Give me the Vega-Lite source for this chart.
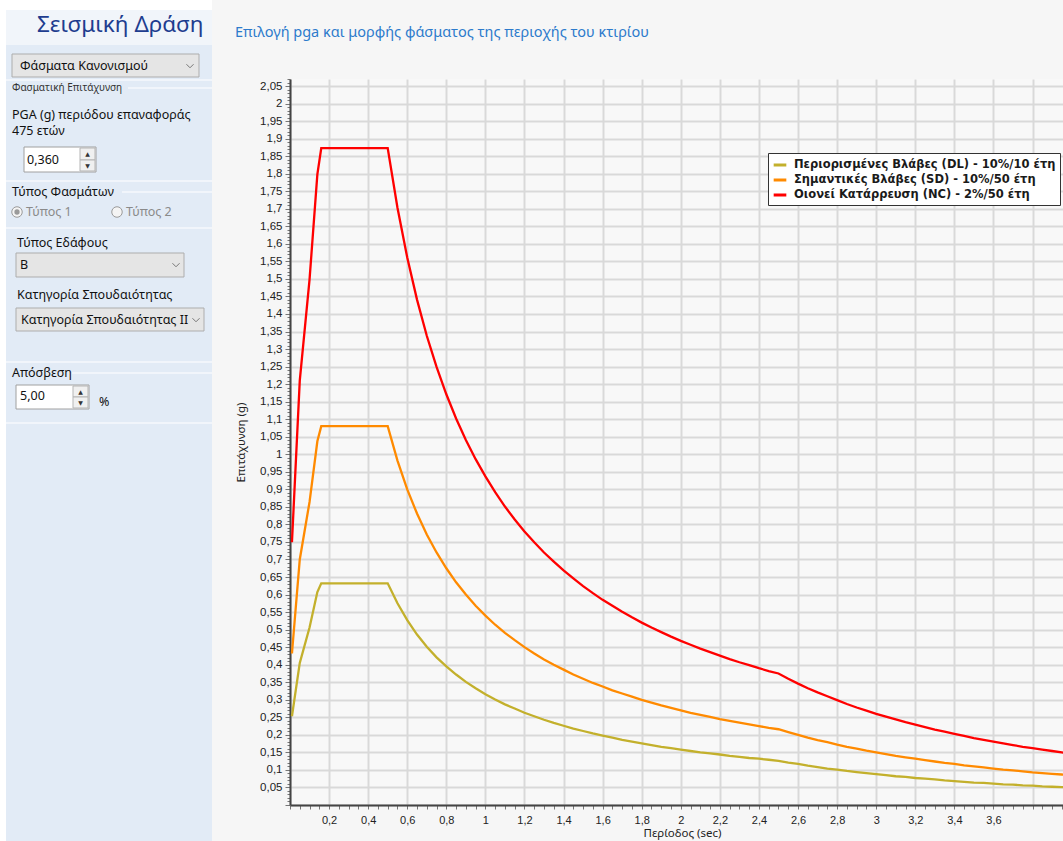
{
  "$schema": "https://vega.github.io/schema/vega-lite/v6.json",
  "background": "#f6f6f6",
  "padding": 0,
  "spacing": 22,
  "config": {"view": {"stroke": null}},
  "hconcat": [
    {
      "width": 212,
      "height": 762,
      "encoding": {
        "x": {"field": "x", "type": "quantitative", "scale": {"domain": [0, 212], "nice": false, "zero": false}, "axis": null},
        "y": {"field": "y", "type": "quantitative", "scale": {"domain": [79, 841], "reverse": true, "nice": false, "zero": false}, "axis": null}
      },
      "layer": [
        {
          "data": {"values": [{"x": 6, "x2": 212, "y": 10, "y2": 45}]},
          "mark": {"type": "rect", "fill": "#f1f5fa"},
          "encoding": {"x2": {"field": "x2"}, "y2": {"field": "y2"}}
        },
        {
          "data": {"values": [{"x": 0, "x2": 6, "y": 0, "y2": 841}, {"x": 0, "x2": 212, "y": 0, "y2": 10}]},
          "mark": {"type": "rect", "fill": "#ffffff"},
          "encoding": {"x2": {"field": "x2"}, "y2": {"field": "y2"}}
        },
        {
          "data": {"values": [{"x": 6, "x2": 212, "y": 45, "y2": 841}]},
          "mark": {"type": "rect", "fill": "#e2ebf6"},
          "encoding": {"x2": {"field": "x2"}, "y2": {"field": "y2"}}
        },
        {
          "data": {"values": [
            {"x": 6, "x2": 212, "y": 80}, {"x": 6, "x2": 212, "y": 181}, {"x": 6, "x2": 212, "y": 228},
            {"x": 6, "x2": 212, "y": 362}, {"x": 6, "x2": 212, "y": 423},
            {"x": 128, "x2": 212, "y": 88}, {"x": 122, "x2": 212, "y": 192}, {"x": 72, "x2": 212, "y": 373}
          ]},
          "mark": {"type": "rule", "stroke": "#f6f8fc", "strokeWidth": 1.5},
          "encoding": {"x2": {"field": "x2"}}
        },
        {
          "data": {"values": [
            {"x": 12, "x2": 199, "y": 54, "y2": 77},
            {"x": 16, "x2": 184, "y": 253, "y2": 277},
            {"x": 16, "x2": 204, "y": 308, "y2": 331}
          ]},
          "mark": {"type": "rect", "fill": "#e5e5e5", "stroke": "#adadad", "strokeWidth": 1},
          "encoding": {"x2": {"field": "x2"}, "y2": {"field": "y2"}}
        },
        {
          "data": {"values": [
            {"x": 24, "x2": 96, "y": 147, "y2": 172},
            {"x": 16, "x2": 89, "y": 385, "y2": 409}
          ]},
          "mark": {"type": "rect", "fill": "#ffffff", "stroke": "#a0a0a0", "strokeWidth": 1},
          "encoding": {"x2": {"field": "x2"}, "y2": {"field": "y2"}}
        },
        {
          "data": {"values": [
            {"x": 80, "x2": 95, "y": 148, "y2": 160}, {"x": 80, "x2": 95, "y": 160, "y2": 171},
            {"x": 73, "x2": 88, "y": 386, "y2": 397}, {"x": 73, "x2": 88, "y": 397, "y2": 408}
          ]},
          "mark": {"type": "rect", "fill": "#f0f0f0", "stroke": "#b5b5b5", "strokeWidth": 1},
          "encoding": {"x2": {"field": "x2"}, "y2": {"field": "y2"}}
        },
        {
          "data": {"values": [
            {"x": 87.5, "y": 154, "t": "▲"}, {"x": 87.5, "y": 166, "t": "▼"},
            {"x": 80.5, "y": 391.5, "t": "▲"}, {"x": 80.5, "y": 403, "t": "▼"}
          ]},
          "mark": {"type": "text", "font": "DejaVu Sans", "fontSize": 6, "color": "#333333", "align": "center", "baseline": "middle"},
          "encoding": {"text": {"field": "t"}}
        },
        {
          "data": {"values": [{"x": 190, "y": 66}, {"x": 176, "y": 265}, {"x": 196, "y": 320}]},
          "mark": {"type": "point", "shape": "M-1,-0.5L0,0.5L1,-0.5", "filled": false, "stroke": "#777777", "strokeWidth": 1, "size": 50, "opacity": 1}
        },
        {
          "data": {"values": [{"x": 17, "y": 212, "k": "on"}, {"x": 117, "y": 212, "k": "off"}]},
          "mark": {"type": "point", "shape": "circle", "filled": true, "fill": "#f4f4f4", "stroke": "#9a9a9a", "strokeWidth": 1, "size": 110, "opacity": 1}
        },
        {
          "data": {"values": [{"x": 17, "y": 212}]},
          "mark": {"type": "point", "shape": "circle", "filled": true, "color": "#9a9a9a", "size": 28, "opacity": 1}
        },
        {
          "data": {"values": [{"x": 37, "y": 25, "t": "Σεισμική Δράση"}]},
          "mark": {"type": "text", "font": "Noto Sans", "fontSize": 22.5, "color": "#1e3d8f", "align": "left", "baseline": "middle"},
          "encoding": {"text": {"field": "t"}}
        },
        {
          "data": {"values": [
            {"x": 20, "y": 66, "t": "Φάσματα Κανονισμού"},
            {"x": 12, "y": 115, "t": "PGA (g) περιόδου επαναφοράς"},
            {"x": 12, "y": 131, "t": "475 ετών"},
            {"x": 27, "y": 160, "t": "0,360"},
            {"x": 12, "y": 192, "t": "Τύπος Φασμάτων"},
            {"x": 17, "y": 243, "t": "Τύπος Εδάφους"},
            {"x": 20, "y": 265, "t": "B"},
            {"x": 17, "y": 295, "t": "Κατηγορία Σπουδαιότητας"},
            {"x": 21, "y": 320, "t": "Κατηγορία Σπουδαιότητας II"},
            {"x": 12, "y": 373, "t": "Απόσβεση"},
            {"x": 20, "y": 396, "t": "5,00"},
            {"x": 99, "y": 402, "t": "%"}
          ]},
          "mark": {"type": "text", "font": "Noto Sans", "fontSize": 12.5, "color": "#111111", "align": "left", "baseline": "middle"},
          "encoding": {"text": {"field": "t"}}
        },
        {
          "data": {"values": [{"x": 12, "y": 88, "t": "Φασματική Επιτάχυνση"}]},
          "mark": {"type": "text", "font": "Noto Sans", "fontSize": 10, "color": "#333333", "align": "left", "baseline": "middle"},
          "encoding": {"text": {"field": "t"}}
        },
        {
          "data": {"values": [{"x": 26, "y": 212, "t": "Τύπος 1"}, {"x": 126, "y": 212, "t": "Τύπος 2"}]},
          "mark": {"type": "text", "font": "Noto Sans", "fontSize": 12.5, "color": "#8a8a8a", "align": "left", "baseline": "middle"},
          "encoding": {"text": {"field": "t"}}
        }
      ]
    },
    {
      "width": 773,
      "height": 726,
      "view": {"fill": "#f8f8f8"},
      "title": {
        "text": "Επιλογή pga και μορφής φάσματος της περιοχής του κτιρίου",
        "anchor": "start",
        "frame": "bounds",
        "offset": 33,
        "font": "Noto Sans",
        "fontSize": 14.5,
        "fontWeight": "normal",
        "color": "#2d7bcc"
      },
      "data": {"values": [
        {"T": 0.01, "DL": 0.253, "SD": 0.432, "NC": 0.749},
        {"T": 0.05, "DL": 0.405, "SD": 0.7, "NC": 1.21},
        {"T": 0.1, "DL": 0.506, "SD": 0.864, "NC": 1.498},
        {"T": 0.14, "DL": 0.607, "SD": 1.037, "NC": 1.798},
        {"T": 0.16, "DL": 0.632, "SD": 1.08, "NC": 1.873},
        {"T": 0.2, "DL": 0.632, "SD": 1.08, "NC": 1.873},
        {"T": 0.25, "DL": 0.632, "SD": 1.08, "NC": 1.873},
        {"T": 0.3, "DL": 0.632, "SD": 1.08, "NC": 1.873},
        {"T": 0.35, "DL": 0.632, "SD": 1.08, "NC": 1.873},
        {"T": 0.4, "DL": 0.632, "SD": 1.08, "NC": 1.873},
        {"T": 0.45, "DL": 0.632, "SD": 1.08, "NC": 1.873},
        {"T": 0.5, "DL": 0.632, "SD": 1.08, "NC": 1.873},
        {"T": 0.55, "DL": 0.575, "SD": 0.982, "NC": 1.703},
        {"T": 0.6, "DL": 0.527, "SD": 0.9, "NC": 1.561},
        {"T": 0.65, "DL": 0.486, "SD": 0.831, "NC": 1.441},
        {"T": 0.7, "DL": 0.451, "SD": 0.771, "NC": 1.338},
        {"T": 0.75, "DL": 0.421, "SD": 0.72, "NC": 1.249},
        {"T": 0.8, "DL": 0.395, "SD": 0.675, "NC": 1.171},
        {"T": 0.85, "DL": 0.372, "SD": 0.635, "NC": 1.102},
        {"T": 0.9, "DL": 0.351, "SD": 0.6, "NC": 1.041},
        {"T": 0.95, "DL": 0.333, "SD": 0.568, "NC": 0.986},
        {"T": 1, "DL": 0.316, "SD": 0.54, "NC": 0.937},
        {"T": 1.05, "DL": 0.301, "SD": 0.514, "NC": 0.892},
        {"T": 1.1, "DL": 0.287, "SD": 0.491, "NC": 0.851},
        {"T": 1.15, "DL": 0.275, "SD": 0.47, "NC": 0.814},
        {"T": 1.2, "DL": 0.263, "SD": 0.45, "NC": 0.78},
        {"T": 1.25, "DL": 0.253, "SD": 0.432, "NC": 0.749},
        {"T": 1.3, "DL": 0.243, "SD": 0.415, "NC": 0.72},
        {"T": 1.35, "DL": 0.234, "SD": 0.4, "NC": 0.694},
        {"T": 1.4, "DL": 0.226, "SD": 0.386, "NC": 0.669},
        {"T": 1.45, "DL": 0.218, "SD": 0.372, "NC": 0.646},
        {"T": 1.5, "DL": 0.211, "SD": 0.36, "NC": 0.624},
        {"T": 1.55, "DL": 0.204, "SD": 0.348, "NC": 0.604},
        {"T": 1.6, "DL": 0.198, "SD": 0.338, "NC": 0.585},
        {"T": 1.65, "DL": 0.192, "SD": 0.327, "NC": 0.568},
        {"T": 1.7, "DL": 0.186, "SD": 0.318, "NC": 0.551},
        {"T": 1.75, "DL": 0.181, "SD": 0.309, "NC": 0.535},
        {"T": 1.8, "DL": 0.176, "SD": 0.3, "NC": 0.52},
        {"T": 1.85, "DL": 0.171, "SD": 0.292, "NC": 0.506},
        {"T": 1.9, "DL": 0.166, "SD": 0.284, "NC": 0.493},
        {"T": 1.95, "DL": 0.162, "SD": 0.277, "NC": 0.48},
        {"T": 2, "DL": 0.158, "SD": 0.27, "NC": 0.468},
        {"T": 2.05, "DL": 0.154, "SD": 0.263, "NC": 0.457},
        {"T": 2.1, "DL": 0.15, "SD": 0.257, "NC": 0.446},
        {"T": 2.15, "DL": 0.147, "SD": 0.251, "NC": 0.436},
        {"T": 2.2, "DL": 0.144, "SD": 0.245, "NC": 0.426},
        {"T": 2.25, "DL": 0.14, "SD": 0.24, "NC": 0.416},
        {"T": 2.3, "DL": 0.137, "SD": 0.235, "NC": 0.407},
        {"T": 2.35, "DL": 0.134, "SD": 0.23, "NC": 0.399},
        {"T": 2.4, "DL": 0.132, "SD": 0.225, "NC": 0.39},
        {"T": 2.45, "DL": 0.129, "SD": 0.22, "NC": 0.382},
        {"T": 2.5, "DL": 0.126, "SD": 0.216, "NC": 0.375},
        {"T": 2.55, "DL": 0.121, "SD": 0.208, "NC": 0.36},
        {"T": 2.6, "DL": 0.117, "SD": 0.2, "NC": 0.346},
        {"T": 2.65, "DL": 0.112, "SD": 0.192, "NC": 0.333},
        {"T": 2.7, "DL": 0.108, "SD": 0.185, "NC": 0.321},
        {"T": 2.75, "DL": 0.104, "SD": 0.179, "NC": 0.31},
        {"T": 2.8, "DL": 0.101, "SD": 0.172, "NC": 0.299},
        {"T": 2.85, "DL": 0.097, "SD": 0.166, "NC": 0.288},
        {"T": 2.9, "DL": 0.094, "SD": 0.161, "NC": 0.278},
        {"T": 2.95, "DL": 0.091, "SD": 0.155, "NC": 0.269},
        {"T": 3, "DL": 0.088, "SD": 0.15, "NC": 0.26},
        {"T": 3.05, "DL": 0.085, "SD": 0.145, "NC": 0.252},
        {"T": 3.1, "DL": 0.082, "SD": 0.14, "NC": 0.244},
        {"T": 3.15, "DL": 0.08, "SD": 0.136, "NC": 0.236},
        {"T": 3.2, "DL": 0.077, "SD": 0.132, "NC": 0.229},
        {"T": 3.25, "DL": 0.075, "SD": 0.128, "NC": 0.222},
        {"T": 3.3, "DL": 0.073, "SD": 0.124, "NC": 0.215},
        {"T": 3.35, "DL": 0.07, "SD": 0.12, "NC": 0.209},
        {"T": 3.4, "DL": 0.068, "SD": 0.117, "NC": 0.203},
        {"T": 3.45, "DL": 0.066, "SD": 0.113, "NC": 0.197},
        {"T": 3.5, "DL": 0.064, "SD": 0.11, "NC": 0.191},
        {"T": 3.55, "DL": 0.063, "SD": 0.107, "NC": 0.186},
        {"T": 3.6, "DL": 0.061, "SD": 0.104, "NC": 0.181},
        {"T": 3.65, "DL": 0.059, "SD": 0.101, "NC": 0.176},
        {"T": 3.7, "DL": 0.058, "SD": 0.099, "NC": 0.171},
        {"T": 3.75, "DL": 0.056, "SD": 0.096, "NC": 0.166},
        {"T": 3.8, "DL": 0.055, "SD": 0.093, "NC": 0.162},
        {"T": 3.85, "DL": 0.053, "SD": 0.091, "NC": 0.158},
        {"T": 3.9, "DL": 0.052, "SD": 0.089, "NC": 0.154},
        {"T": 3.95, "DL": 0.051, "SD": 0.087, "NC": 0.15},
        {"T": 4, "DL": 0.049, "SD": 0.084, "NC": 0.146}
      ]},
      "transform": [{"fold": ["DL", "SD", "NC"], "as": ["series", "value"]}],
      "mark": {"type": "line", "strokeWidth": 2.3, "clip": true},
      "encoding": {
        "x": {
          "field": "T", "type": "quantitative",
          "scale": {"domain": [0, 3.956], "nice": false, "zero": false},
          "axis": {
            "title": "Περίοδος (sec)",
            "titleFont": "Noto Sans", "titleFontSize": 11.5, "titleFontWeight": "normal", "titleColor": "#222222",
            "titleX": 392, "titlePadding": 2,
            "tickCount": 80,
            "labelExpr": "abs(round(datum.value*100) % 20) == 0 && datum.value > 0.001 && datum.value < 3.7 ? replace(format(datum.value, '.1~f'), '.', ',') : ''",
            "labelOverlap": false, "labelFlush": false,
            "labelFont": "Liberation Sans", "labelFontSize": 11, "labelColor": "#222222", "labelPadding": 5,
            "grid": true, "gridColor": "#d9d9d9", "gridWidth": 2,
            "gridOpacity": {"condition": {"test": "abs(round(datum.value*100) % 20) == 0", "value": 1}, "value": 0},
            "ticks": true, "tickSize": 4, "tickColor": "#777777", "tickWidth": 1,
            "domainColor": "#444444", "domainWidth": 2
          }
        },
        "y": {
          "field": "value", "type": "quantitative",
          "scale": {"domain": [0, 2.07], "nice": false, "zero": false},
          "axis": {
            "title": "Επιτάχυνση (g)",
            "titleFont": "Noto Sans", "titleFontSize": 11.5, "titleFontWeight": "normal", "titleColor": "#222222",
            "titlePadding": 4, "minExtent": 40, "maxExtent": 40,
            "tickCount": 207,
            "labelExpr": "abs(round(datum.value*100) % 5) == 0 && datum.value > 0.001 ? replace(format(datum.value, '.2~f'), '.', ',') : ''",
            "labelOverlap": false, "labelFlush": false,
            "labelFont": "Liberation Sans", "labelFontSize": 11.5, "labelColor": "#222222", "labelPadding": 3,
            "grid": true, "gridColor": "#d9d9d9", "gridWidth": 2,
            "gridOpacity": {"condition": {"test": "abs(round(datum.value*100) % 5) == 0", "value": 1}, "value": 0},
            "ticks": true,
            "tickSize": {"condition": {"test": "abs(round(datum.value*100) % 5) == 0", "value": 5}, "value": 3},
            "tickColor": "#777777", "tickWidth": 1,
            "domainColor": "#444444", "domainWidth": 2
          }
        },
        "color": {
          "field": "series", "type": "nominal",
          "scale": {"domain": ["DL", "SD", "NC"], "range": ["#c3b02c", "#ff8a00", "#ff0000"]},
          "legend": {
            "title": null,
            "orient": "none", "legendX": 768, "legendY": 74,
            "labelExpr": "datum.label == 'DL' ? 'Περιορισμένες Βλάβες (DL) - 10%/10 έτη' : datum.label == 'SD' ? 'Σημαντικές Βλάβες (SD) - 10%/50 έτη' : 'Οιονεί Κατάρρευση (NC) -  2%/50 έτη'",
            "symbolType": "stroke", "symbolStrokeWidth": 3, "symbolSize": 160,
            "fillColor": "#ffffff", "strokeColor": "#333333", "padding": 4,
            "labelFont": "DejaVu Sans", "labelFontWeight": "bold", "labelFontSize": 11.5, "labelColor": "#1a1a1a",
            "labelLimit": 400, "labelOffset": 6, "rowPadding": 1
          }
        }
      }
    }
  ]
}
